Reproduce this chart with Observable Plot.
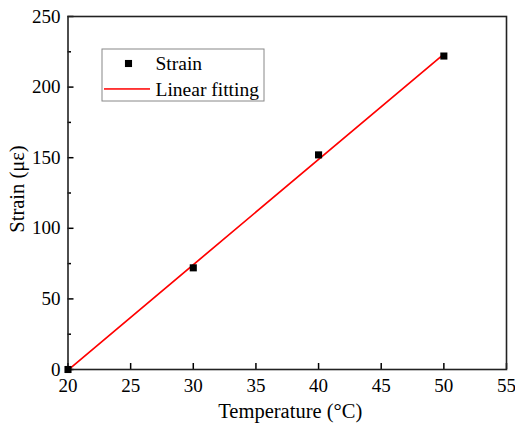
<!DOCTYPE html>
<html>
<head>
<meta charset="utf-8">
<script src="https://cdn.jsdelivr.net/npm/d3@7"></script>
<script src="https://cdn.jsdelivr.net/npm/@observablehq/plot@0.6"></script>
<style>
  html, body { margin: 0; padding: 0; background: #fff; }
  #chart svg { display: block; overflow: visible; }
  #chart svg text { font-family: 'Liberation Serif', 'Times New Roman', serif !important; }
</style>
</head>
<body>
<div id="chart"></div>
<script>
// Data
const temperature = [20, 30, 40, 50];
const strain = [0, 72, 152, 222];
// Linear fit endpoints (least squares of the points above)
const fitTemperature = [20, 50];
const fitStrain = [-0.4, 223.4];
// Tick values
const xTicks = [20, 25, 30, 35, 40, 45, 50, 55];
const yTicks = [0, 50, 100, 150, 200, 250];
const yMinorTicks = [25, 75, 125, 175, 225];
const legendLabels = ["Strain", "Linear fitting"];

const W = 515, H = 423;
const mL = 67.5, mR = 9, mT = 16, mB = 54;
const pw = W - mL - mR, ph = H - mT - mB;
const font = "'Liberation Serif', 'Times New Roman', serif";
const fs = 19;
const fsTitle = 20.5;
const fsLegend = 19.5;

const points = temperature.map((t, i) => ({t, s: strain[i]}));
const fit = fitTemperature.map((t, i) => ({t, s: fitStrain[i]}));

const chart = Plot.plot({
  width: W,
  height: H,
  marginLeft: mL,
  marginRight: mR,
  marginTop: mT,
  marginBottom: mB,
  style: {fontFamily: font, fontSize: fs + "px", color: "#000", background: "#fff"},
  x: {domain: [20, 55]},
  y: {domain: [0, 250]},
  marks: [
    // tick labels
    Plot.axisX({ticks: xTicks, tickSize: 0, tickPadding: 9, fontSize: fs, fontFamily: font, label: null, tickFormat: d => String(d)}),
    Plot.axisY({ticks: yTicks, tickSize: 0, tickPadding: 7.5, fontSize: fs, fontFamily: font, label: null, tickFormat: d => String(d)}),
    // inward ticks
    Plot.tickX(xTicks, {x: d => d, insetTop: ph - 6, stroke: "#000", strokeWidth: 1.5}),
    Plot.tickY(yTicks, {y: d => d, insetRight: pw - 6, stroke: "#000", strokeWidth: 1.5}),
    Plot.tickY(yMinorTicks, {y: d => d, insetRight: pw - 3.5, stroke: "#000", strokeWidth: 1.5}),
    // axis titles
    Plot.text(["Temperature (°C)"], {frameAnchor: "bottom", dx: 3, dy: 42, lineAnchor: "middle", fontSize: fsTitle, fontFamily: font, fill: "#000"}),
    Plot.text(["Strain (με)"], {frameAnchor: "left", dx: -50.5, dy: -4, rotate: -90, lineAnchor: "middle", textAnchor: "middle", fontSize: fsTitle, fontFamily: font, fill: "#000"}),
    // fit line
    Plot.line(fit, {x: "t", y: "s", stroke: "#ff0000", strokeWidth: 1.7}),
    // frame
    Plot.frame({stroke: "#222", strokeWidth: 1.6}),
    // points
    Plot.dot(points, {x: "t", y: "s", symbol: "square", r: 4, fill: "#000", stroke: "none"}),
    // legend
    Plot.rect([0], {insetLeft: 34.5, insetRight: 242, insetTop: 33, insetBottom: 268, fill: "#fff", stroke: "#888", strokeWidth: 1}),
    Plot.dot([0], {frameAnchor: "top-left", dx: 60.5, dy: 47, symbol: "square", r: 4, fill: "#000", stroke: "none"}),
    Plot.rect([0], {insetLeft: 36.5, insetRight: 356, insetTop: 72.2, insetBottom: 279.3, fill: "#ff0000"}),
    Plot.text([legendLabels[0]], {frameAnchor: "top-left", dx: 87.5, dy: 47, textAnchor: "start", lineAnchor: "middle", fontSize: fsLegend, fontFamily: font, fill: "#000"}),
    Plot.text([legendLabels[1]], {frameAnchor: "top-left", dx: 87.5, dy: 73, textAnchor: "start", lineAnchor: "middle", fontSize: fsLegend, fontFamily: font, fill: "#000"})
  ]
});
document.getElementById("chart").appendChild(chart);
</script>
</body>
</html>
